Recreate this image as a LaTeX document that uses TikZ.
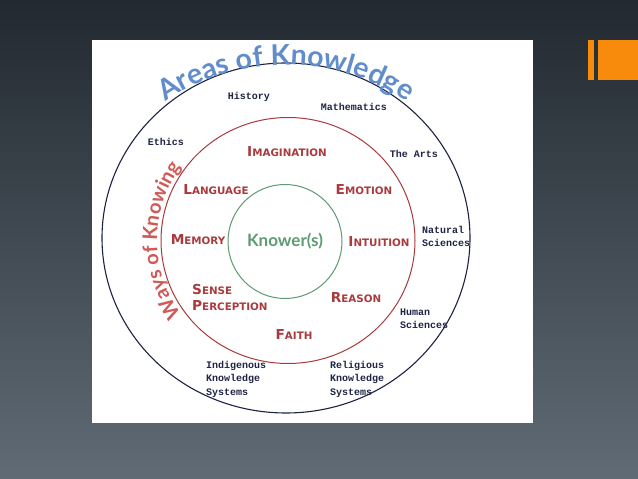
\documentclass[tikz,border=0pt]{standalone}
\usepackage{fontspec}
\usepackage{tikz}
\usetikzlibrary{decorations.text}
\newfontfamily\wokfont{DejaVu Sans}
\newfontfamily\aokfont{Liberation Mono}
\newfontfamily\arcfont{Lato}
\definecolor{bgtop}{HTML}{222930}
\definecolor{bgbot}{HTML}{606B75}
\definecolor{slideorange}{HTML}{F98B0C}
\definecolor{aokline}{HTML}{1E2342}
\definecolor{aoktext}{HTML}{1F2545}
\definecolor{wokred}{HTML}{A93B3F}
\definecolor{wokpink}{HTML}{CF5A57}
\definecolor{aokblue}{HTML}{628DCC}
\definecolor{knowgreen}{HTML}{5E9A74}
% fake small caps: big first letter, rest smaller
\newcommand{\wsc}[2]{{\fontsize{13.7}{16}\selectfont #1}{\fontsize{10.3}{16}\selectfont #2}}

\begin{document}
\begin{tikzpicture}[x=1pt, y=1pt]
\tikzstyle{wok}=[font=\wokfont\bfseries\fontsize{10.3}{16}\selectfont, text=wokred, inner sep=0pt, align=left]
\tikzstyle{aok}=[font=\aokfont\bfseries\fontsize{10}{13.3}\selectfont, text=aoktext, inner sep=0pt, align=left]
\useasboundingbox (0,0) rectangle (638,479);
\shade[top color=bgtop, middle color=bgtop!75!bgbot, bottom color=bgbot] (0,0) rectangle (638,479);
\fill[white] (92,56) rectangle (533,439);
\fill[slideorange] (588,399) rectangle (594,439);
\fill[slideorange] (598,399) rectangle (638,439);

\coordinate (aokc) at (286,241);
\coordinate (wokc) at (288,238.5);
\coordinate (knc) at (285,237.5);
\draw[aokline, line width=1.1pt] (aokc) ellipse [x radius=184pt, y radius=175pt];
\draw[wokred, line width=1pt] (wokc) ellipse [x radius=127pt, y radius=123pt];
\draw[knowgreen, line width=1pt] (knc) circle [radius=57pt];

%% curved titles
\path[decorate, decoration={text along path, text align=center, text color=aokblue,
    text={|\arcfont\bfseries\fontsize{28.5}{28.5}\selectfont|Areas of Knowledge}}]
    ([shift={(aokc)}]129:195pt and 173pt) arc[start angle=129, end angle=51, x radius=195pt, y radius=173pt];
\path[decorate, decoration={text along path, text align=center, text color=wokpink,
    text={|\arcfont\bfseries\fontsize{20}{20}\selectfont|Ways of Knowing}}]
    ([shift={(wokc)}]214:131pt and 128pt) arc[start angle=214, end angle=146, x radius=131pt, y radius=128pt];

%% ways of knowing
\node[wok] (imag) at (287,327) {\wsc{I}{MAGINATION}};
\node[wok] (lang) at (216,289) {\wsc{L}{ANGUAGE}};
\node[wok] (emot) at (364,289) {\wsc{E}{MOTION}};
\node[wok] (mem) at (198,239) {\wsc{M}{EMORY}};
\node[wok] (intu) at (379,237) {\wsc{I}{NTUITION}};
\node[wok, anchor=west] (sense) at (192,182) {\wsc{S}{ENSE}\\\wsc{P}{ERCEPTION}};
\node[wok] (reas) at (356,181) {\wsc{R}{EASON}};
\node[wok] (faith) at (294,144) {\wsc{F}{AITH}};
\node[font=\arcfont\bfseries\fontsize{17}{17}\selectfont, text=knowgreen] (knower) at (knc) {Knower(s)};

%% areas of knowledge
\node[aok] (hist) at (249,382) {History};
\node[aok] (math) at (354,372) {Mathematics};
\node[aok] (eth) at (166,337) {Ethics};
\node[aok] (arts) at (414,325) {The Arts};
\node[aok, anchor=west] (nat) at (422,242.5) {Natural\\Sciences};
\node[aok, anchor=west] (hum) at (400,160) {Human\\Sciences};
\node[aok, anchor=west] (indig) at (206,99.7) {Indigenous\\Knowledge\\Systems};
\node[aok, anchor=west] (relig) at (330,99.7) {Religious\\Knowledge\\Systems};
\end{tikzpicture}
\end{document}
